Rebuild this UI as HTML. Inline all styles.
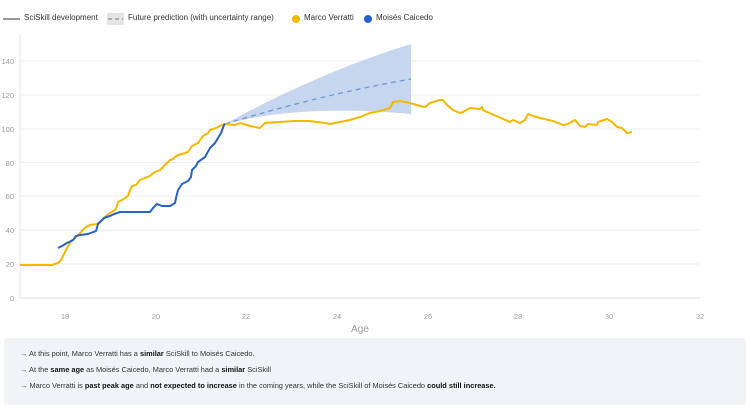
<!DOCTYPE html>
<html><head><meta charset="utf-8"><style>
body{margin:0;width:750px;height:407px;background:#fff;font-family:"Liberation Sans",sans-serif;overflow:hidden;position:relative}
.lg{position:absolute;top:13px;font-size:8px;color:#333;white-space:nowrap}
.box{position:absolute;left:4px;top:338px;width:742px;height:67px;background:#f1f3f6;border-radius:3px}
.box div{position:absolute;left:16px;font-size:7.4px;color:#333;white-space:nowrap}
b{color:#111}
</style></head><body>
<svg width="750" height="407" style="position:absolute;left:0;top:0" font-family="Liberation Sans, sans-serif">
<g stroke="#eee" stroke-width="1">
<line x1="20" x2="700" y1="61" y2="61"/><line x1="20" x2="700" y1="95" y2="95"/><line x1="20" x2="700" y1="129" y2="129"/><line x1="20" x2="700" y1="162.5" y2="162.5"/><line x1="20" x2="700" y1="196" y2="196"/><line x1="20" x2="700" y1="230" y2="230"/><line x1="20" x2="700" y1="264" y2="264"/>
</g>
<line x1="20" x2="20" y1="35" y2="298" stroke="#e6e6e6"/>
<line x1="20" x2="700" y1="298" y2="298" stroke="#ddd"/>
<g font-size="7.5" fill="#999" text-anchor="end">
<text x="14" y="64">140</text><text x="14" y="98">120</text><text x="14" y="132">100</text><text x="14" y="166">80</text><text x="14" y="199">60</text><text x="14" y="233">40</text><text x="14" y="267">20</text><text x="14" y="301">0</text>
</g>
<g font-size="7.5" fill="#999" text-anchor="middle">
<text x="65" y="319">18</text><text x="156" y="319">20</text><text x="246" y="319">22</text><text x="337" y="319">24</text><text x="428" y="319">26</text><text x="518" y="319">28</text><text x="609" y="319">30</text><text x="700" y="319">32</text>
</g>
<text x="360" y="332" font-size="10" fill="#999" text-anchor="middle">Age</text>
<path d="M225,124 Q320,72 411,44 L411,114 Q300,104 225,124 Z" fill="#c6d6ee"/>
<path d="M225,124 Q320,95 411,79" fill="none" stroke="#6f96d6" stroke-width="1.3" stroke-dasharray="5,4"/>
<polyline fill="none" stroke="#f5b800" stroke-width="2" stroke-linejoin="round" points="20,265 52,265 58,263 61,260 63,256 67,248 70,243 75,238 78,235 82,231 86,227 90,225 97,224 100,222 105,217 110,213 115,210 117,206 118,202 122,200 125,198 128,196 130,190 132,186 136,185 140,180 145,178 150,176 152,174 155,172 160,170 162,168 165,165 168,162 170,160 173,159 175,157 178,155 182,154 188,152 192,146 198,143 200,140 203,136 208,133 210,130 216,128 222,125 225,124 235,125 240,123 250,126 260,128 265,123 280,122 295,121 310,121 325,123 330,124 340,122 350,120 360,117 370,113 380,111 390,108 393,102 400,101 410,103 420,106 425,107 430,103 440,100 443,100 447,105 453,110 460,113 463,112 470,108 480,109 482,107 483,110 487,112 510,122 513,120 520,123 525,120 528,114 533,116 540,118 553,121 563,125 568,124 573,121 575,120 580,126 585,127 588,124 597,125 598,122 607,119 612,122 617,127 622,128 627,133 632,132"/>
<polyline fill="none" stroke="#2563c7" stroke-width="2" stroke-linejoin="round" points="58,248 62,246 67,243 73,240 76,236 80,235 88,234 96,231 98,224 104,218 110,216 114,214 120,212 150,212 153,208 157,204 162,206 170,206 175,203 176,198 178,190 182,184 188,181 191,177 192,170 196,166 198,162 205,157 210,148 215,143 218,138 221,133 224,125 225,124"/>
<line x1="3" x2="20" y1="19" y2="19" stroke="#999" stroke-width="2"/>
<rect x="107" y="13" width="17" height="12" fill="#e4e4e4"/>
<line x1="108" x2="123" y1="19" y2="19" stroke="#999" stroke-width="1.5" stroke-dasharray="4,3"/>
<circle cx="296" cy="19" r="4" fill="#f5b800"/>
<circle cx="368" cy="19" r="4" fill="#2563c7"/>
</svg>
<div class="lg" style="left:24px">SciSkill development</div>
<div class="lg" style="left:128px">Future prediction (with uncertainty range)</div>
<div class="lg" style="left:304px">Marco Verratti</div>
<div class="lg" style="left:376px">Moisés Caicedo</div>
<div class="box">
<div style="top:11px">→ At this point, Marco Verratti has a <b>similar</b> SciSkill to Moisés Caicedo.</div>
<div style="top:27px">→ At the <b>same age</b> as Moisés Caicedo, Marco Verratti had a <b>similar</b> SciSkill</div>
<div style="top:43px">→ Marco Verratti is <b>past peak age</b> and <b>not expected to increase</b> in the coming years, while the SciSkill of Moisés Caicedo <b>could still increase.</b></div>
</div>
</body></html>
